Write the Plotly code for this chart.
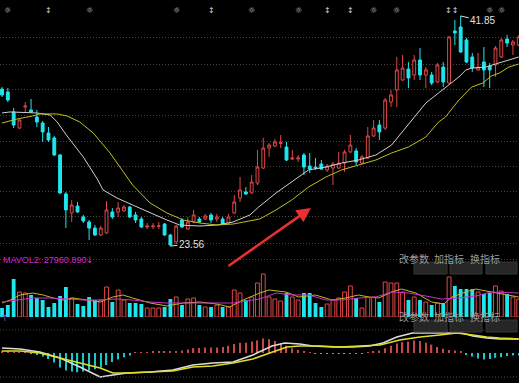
import plotly.graph_objects as go

W, H = 519, 383

# ---------------- data ----------------
opens = [36.04, 35.81, 34.22, 32.94, 34.61, 34.38, 33.82, 33.34, 32.55, 32.15,
         30.80, 27.70, 26.19, 26.74, 25.87, 25.47, 24.99, 24.44, 24.60, 26.27,
         26.27, 26.35, 26.66, 26.03, 25.71, 25.07, 25.10, 25.15, 25.31, 24.44,
         23.88, 25.63, 24.91, 25.47, 25.71, 25.71, 26.03, 25.71, 25.71, 25.39,
         26.19, 27.38, 27.86, 27.78, 28.57, 29.76, 31.35, 31.51, 31.71, 31.43,
         30.48, 30.48, 30.80, 29.92, 29.84, 30.08, 29.61, 29.76, 29.76, 30.16,
         31.04, 31.12, 30.16, 30.56, 32.31, 33.18, 32.94, 35.01, 35.97, 36.76,
         37.63, 37.16, 38.35, 37.16, 37.16, 36.60, 37.79, 36.52, 40.66, 40.97,
         39.94, 38.59, 37.56, 38.19, 37.87, 37.95, 38.59, 40.02, 39.54, 39.54]
highs = [36.20, 36.12, 34.53, 33.62, 35.01, 35.25, 34.38, 33.50, 33.02, 32.31,
         30.88, 27.86, 27.22, 27.06, 26.03, 25.63, 25.23, 25.15, 27.14, 26.58,
         27.06, 26.82, 26.74, 26.27, 25.87, 25.39, 25.39, 25.47, 25.39, 24.52,
         25.23, 25.79, 25.87, 26.43, 25.87, 26.11, 26.19, 26.11, 25.87, 26.11,
         27.62, 29.05, 28.25, 29.21, 31.20, 32.15, 31.75, 32.07, 32.39, 31.83,
         31.20, 30.80, 30.96, 30.96, 30.56, 30.40, 30.08, 30.24, 31.04, 31.20,
         32.39, 31.35, 30.80, 33.02, 33.58, 33.58, 35.33, 35.97, 38.59, 38.75,
         38.19, 38.75, 39.30, 37.79, 37.40, 38.11, 38.19, 40.26, 41.53, 41.85,
         40.10, 38.91, 38.91, 39.38, 38.11, 39.46, 40.10, 40.34, 39.94, 40.34]
lows = [35.41, 35.01, 32.94, 32.88, 34.14, 34.14, 33.02, 31.83, 31.83, 30.72,
        27.70, 24.99, 25.47, 26.19, 25.39, 24.04, 24.36, 24.36, 24.52, 25.71,
        25.87, 26.27, 25.79, 25.39, 24.99, 24.91, 24.91, 24.91, 24.36, 23.56,
        23.72, 24.99, 24.84, 25.39, 25.39, 25.63, 25.39, 25.47, 25.23, 25.31,
        26.11, 27.06, 27.62, 27.70, 28.41, 29.68, 30.64, 31.43, 31.35, 30.32,
        30.40, 30.24, 29.21, 29.37, 29.61, 29.61, 29.45, 28.41, 29.68, 29.45,
        30.96, 30.00, 30.08, 30.48, 32.23, 31.99, 32.79, 34.61, 34.61, 36.70,
        36.12, 36.76, 36.76, 36.12, 36.36, 36.52, 36.20, 36.44, 39.54, 38.91,
        38.11, 37.40, 37.48, 36.20, 36.12, 37.00, 38.51, 39.38, 38.75, 39.46]
closes = [35.57, 35.17, 33.18, 33.58, 34.69, 34.22, 33.42, 32.63, 31.99, 30.80,
          27.78, 26.43, 26.82, 26.27, 25.55, 24.99, 24.44, 24.99, 26.43, 25.87,
          26.58, 26.66, 25.87, 25.63, 25.07, 25.15, 25.15, 25.16, 24.44, 23.64,
          25.15, 25.07, 25.47, 26.03, 25.47, 25.95, 25.63, 25.87, 25.31, 25.87,
          27.06, 28.02, 27.70, 28.65, 29.84, 31.35, 31.59, 31.83, 31.79, 30.40,
          30.56, 30.56, 29.84, 29.68, 29.76, 29.68, 29.92, 30.08, 30.16, 31.04,
          31.59, 30.24, 30.64, 32.31, 32.94, 32.63, 35.17, 35.57, 37.56, 37.71,
          36.92, 38.35, 37.16, 37.56, 36.52, 37.95, 36.60, 40.18, 40.50, 38.99,
          38.19, 37.71, 37.79, 37.56, 37.56, 39.30, 39.94, 39.70, 39.78, 40.18]

volume = [10490, 13980, 44270, 29130, 27960, 25630, 22140, 19800, 11650, 16310,
          24470, 34950, 22140, 15150, 12820, 23300, 19800, 19810, 34950, 17480,
          31460, 19800, 16310, 16310, 15150, 10490, 10480, 10490, 11650, 20970,
          23300, 13980, 20970, 22140, 13980, 11650, 11650, 13980, 11650, 11650,
          31460, 27960, 19800, 23300, 39610, 50100, 23300, 20970, 18640, 27960,
          23300, 19800, 27960, 27960, 16310, 11650, 15150, 19800, 22140, 29130,
          36120, 22140, 10490, 23300, 23300, 17480, 40780, 39610, 39610, 29130,
          19800, 23300, 19800, 17480, 13980, 16310, 16310, 46600, 36120, 32620,
          32620, 32620, 29130, 26800, 27960, 36120, 30290, 26800, 23300, 20970]

# price moving averages, read at points along the lines
ma_short_idx = [0, 1.4, 6, 8.3, 9.5, 11.2, 14, 16.4, 17.4, 19.8, 22.5, 25.5, 28.4, 30.6,
                34.1, 37, 39.8, 42.7, 44.2, 47.2, 49.9, 52.8, 55.8, 58.5, 61.4, 64.4,
                67.1, 70, 73, 75.2, 76.9, 78.7, 79.9, 80.9, 83.3, 85.5, 87.3, 89]
ma_short_val = [34.14, 34.22, 34.14, 33.98, 33.42, 32.31, 30.64, 28.89, 28.02, 27.38, 26.82,
                26.19, 25.63, 25.23, 25.15, 25.23, 25.47, 26.03, 26.66, 27.78, 28.65, 29.61,
                29.84, 30.16, 30.40, 30.80, 31.59, 33.26, 34.93, 35.73, 36.36, 37.00, 37.56,
                37.71, 37.79, 38.11, 38.35, 38.59]
ma_long_idx = [0, 2.6, 5.3, 6.5, 9.5, 11.2, 13.4, 15.7, 18.6, 21.7, 22.5, 25.5, 28.4, 31.2,
               34.1, 37, 39.8, 44.4, 47.2, 49.9, 52.8, 55.8, 58.5, 61.4, 64.4, 67.1, 70, 73,
               75.2, 76.4, 78.7, 80.9, 82.8, 84.3, 85.7, 87.3, 89]
ma_long_val = [33.34, 33.66, 33.90, 34.06, 34.06, 33.90, 33.42, 32.55, 30.96, 28.97, 28.41,
               26.98, 26.19, 25.63, 25.39, 25.23, 25.31, 25.71, 26.43, 27.22, 28.25, 29.05,
               29.61, 30.00, 30.40, 30.96, 31.43, 32.23, 33.42, 33.82, 35.17, 36.20, 36.52,
               37.08, 37.32, 37.79, 38.03]

# volume moving averages
vol_ma1_idx = [0, 1.4, 3.1, 5.3, 7.1, 8.8, 10.5, 12.2, 14.6, 16.9, 19.1, 20.8, 22.5, 25.5,
               28.4, 31.2, 34.1, 37, 39.2, 41.5, 44.4, 46, 48.9, 51.1, 54, 56.8, 59.2, 61.4,
               63.2, 64.9, 67.1, 68.8, 71.3, 74, 76.1, 77.5, 79.9, 81.6, 84.3, 87.3, 89]
vol_ma1_val = [16310, 19805, 25630, 27960, 25630, 22135, 19805, 22135, 19805, 17475, 23300,
               25630, 22135, 16310, 12815, 16310, 17475, 15145, 11650, 19805, 27960, 31455,
               29125, 23300, 25630, 19805, 22135, 25630, 23300, 22135, 29125, 32620, 27960,
               17475, 15145, 23300, 29125, 32620, 29125, 25630, 23300]
vol_ma2_idx = [0, 2.6, 5.3, 8.3, 11.2, 13.9, 16.9, 19.8, 22.5, 25.5, 28.4, 31.2, 34.1, 37,
               39.8, 44.4, 47.2, 49.9, 52.8, 55.8, 58.5, 61.4, 64.4, 67.1, 70, 73, 75.7,
               78.7, 81.6, 84.3, 87.3, 89]
vol_ma2_val = [17475, 19805, 22135, 22135, 20970, 19805, 19805, 20970, 19805, 17475, 16310,
               16310, 16310, 16310, 16310, 20970, 27960, 25630, 25630, 19805, 19805, 22135,
               23300, 29125, 27960, 24465, 20970, 22135, 24465, 29125, 27960, 27960.89]

# MACD
macd_hist = [0.10, 0.10, 0.08, 0.05, 0.02, -0.02, -0.15, -0.30, -0.50, -0.80,
             -1.20, -1.45, -1.55, -1.60, -1.55, -1.45, -1.35, -1.20, -1.00, -0.75,
             -0.55, -0.35, -0.20, 0.03, 0.05, 0.07, 0.10, 0.12, 0.12, 0.10,
             0.15, 0.20, 0.30, 0.40, 0.42, 0.45, 0.45, 0.45, 0.50, 0.60,
             0.75, 0.85, 0.85, 0.95, 1.05, 1.20, 1.15, 1.00, 0.80, 0.60,
             0.40, 0.25, 0.10, 0.02, -0.05, -0.08, -0.08, -0.08, -0.06, -0.05,
             -0.03, -0.06, -0.05, 0.03, 0.10, 0.20, 0.40, 0.60, 0.80, 0.90,
             0.95, 1.05, 1.00, 0.85, 0.70, 0.50, 0.35, 0.25, 0.20, 0.15,
             -0.10, -0.30, -0.45, -0.55, -0.50, -0.40, -0.35, -0.25, -0.20, -0.20]
dif_idx = [0, 3.1, 6.5, 10, 13.4, 16.9, 19.1, 21.5, 25.5, 29.4, 32.9, 36.3, 39.8, 43.2,
           46.5, 48.7, 51.3, 53.5, 57, 60.4, 63.3, 65.6, 68, 70.7, 74.2, 77.1, 79.2, 81.1,
           83.5, 85.7, 89]
dif_val = [0.42, 0.33, 0.08, -0.42, -1.17, -2.00, -1.83, -1.67, -1.58, -1.42, -1.00, -0.83,
           -0.75, -0.17, 0.58, 0.83, 0.75, 0.58, 0.50, 0.50, 0.58, 0.83, 1.33, 1.67, 1.67,
           1.67, 1.67, 1.42, 1.25, 1.17, 1.17]
dea_idx = [0, 3.1, 6.5, 10, 13.4, 16.9, 19.1, 21.5, 25.5, 29.4, 32.9, 36.3, 39.8, 43.2,
           46.6, 49.1, 51.3, 54.7, 58.2, 61.6, 65.1, 68.5, 72, 75.4, 78.3, 81.1, 83.5,
           85.7, 89]
dea_val = [0.17, 0.17, 0.00, -0.42, -0.83, -1.25, -1.67, -1.67, -1.58, -1.50, -1.17, -1.08,
           -0.83, -0.50, 0.08, 0.50, 0.58, 0.58, 0.50, 0.58, 0.67, 1.08, 1.33, 1.50, 1.67,
           1.50, 1.33, 1.25, 1.17]

grid_prices = [40.10, 38.03, 35.97, 33.90, 31.91, 29.92, 27.86, 25.87, 23.80]
info_idx = [1, 8, 15, 30, 36, 43, 51, 56, 60, 64, 68, 77.5, 84, 86]
info_sym = ["☼", "↕", "☼", "☼", "↕", "☼", "☼", "↕", "↕", "☼", "☼", "↕↕", "☼", "☼"]
date_idx = [1, 22.4, 45.3, 66.4, 83.7]
date_labels = ["07", "08", "09", "10", "11"]
buttons = ["改参数", "加指标", "换指标"]
high_label = "41.85"
low_label = "23.56"
mavol_label = "MAVOL2: 27960.890"

# ---------------- styling ----------------
RED = "#e04848"
CYAN = "#1ee6ee"
BG = "#000000"
GRID = "#4c4444"
n = len(opens)
idx = list(range(n))


def py(px):
    return 1 - px / H


def px_x(px):
    return px / W


fig = go.Figure()

# main candles
fig.add_trace(go.Candlestick(
    x=idx, open=opens, high=highs, low=lows, close=closes,
    xaxis="x", yaxis="y", whiskerwidth=0,
    increasing=dict(line=dict(color=RED, width=1), fillcolor=BG),
    decreasing=dict(line=dict(color=CYAN, width=1), fillcolor=CYAN),
    hoverinfo="skip"))
fig.add_trace(go.Scatter(x=ma_short_idx, y=ma_short_val, mode="lines",
                         line=dict(color="#cfcfcf", width=1), xaxis="x", yaxis="y"))
fig.add_trace(go.Scatter(x=ma_long_idx, y=ma_long_val, mode="lines",
                         line=dict(color="#bfbf22", width=1), xaxis="x", yaxis="y"))

# volume bars
up = [i for i in idx if closes[i] >= opens[i]]
dn = [i for i in idx if closes[i] < opens[i]]
fig.add_trace(go.Bar(x=up, y=[volume[i] for i in up], width=0.66, xaxis="x2", yaxis="y2",
                     marker=dict(color=BG, line=dict(color=RED, width=1))))
fig.add_trace(go.Bar(x=dn, y=[volume[i] for i in dn], width=0.66, xaxis="x2", yaxis="y2",
                     marker=dict(color=CYAN, line=dict(width=0))))
fig.add_trace(go.Scatter(x=vol_ma1_idx, y=vol_ma1_val, mode="lines",
                         line=dict(color="#c8b428", width=1), xaxis="x2", yaxis="y2"))
fig.add_trace(go.Scatter(x=vol_ma2_idx, y=vol_ma2_val, mode="lines",
                         line=dict(color="#c830c8", width=1), xaxis="x2", yaxis="y2"))

# MACD
hp = [i for i in idx if macd_hist[i] >= 0]
hn = [i for i in idx if macd_hist[i] < 0]
fig.add_trace(go.Bar(x=hp, y=[macd_hist[i] for i in hp], width=0.22, xaxis="x3", yaxis="y3",
                     marker=dict(color="#c84848", line=dict(width=0))))
fig.add_trace(go.Bar(x=hn, y=[macd_hist[i] for i in hn], width=0.22, xaxis="x3", yaxis="y3",
                     marker=dict(color="#18c8c8", line=dict(width=0))))
fig.add_trace(go.Scatter(x=dif_idx, y=dif_val, mode="lines",
                         line=dict(color="#dcdcdc", width=1.6), xaxis="x3", yaxis="y3"))
fig.add_trace(go.Scatter(x=dea_idx, y=dea_val, mode="lines",
                         line=dict(color="#dede28", width=1.6), xaxis="x3", yaxis="y3"))

xr = [-0.35, 89.05]
ax_common = dict(range=xr, visible=False, fixedrange=True)

shapes = []
for yy in (259.5, 330, 377):
    shapes.append(dict(type="line", xref="paper", yref="paper", x0=0, x1=1,
                       y0=py(yy), y1=py(yy), line=dict(color=GRID, width=1, dash="1px,2px")))
btn_x = [(414, 447), (450, 482), (486, 517)]
btn_rows = [(262, 274), (320, 332)]
annotations = []
for (r0, r1) in btn_rows:
    for (x0, x1), lab in zip(btn_x, buttons):
        shapes.append(dict(type="rect", xref="paper", yref="paper",
                           x0=px_x(x0), x1=px_x(x1), y0=py(r1), y1=py(r0),
                           fillcolor="#262626", line=dict(color="#363636", width=1)))
        annotations.append(dict(xref="paper", yref="paper", x=px_x((x0 + x1) / 2),
                                y=py((r0 + r1) / 2), text=lab, showarrow=False,
                                font=dict(family="Noto Sans CJK SC", size=10, color="#9c9c9c")))

for i_, s in zip(info_idx, info_sym):
    annotations.append(dict(xref="x", yref="paper", x=i_, y=py(4), text=s, showarrow=False,
                            font=dict(family="DejaVu Sans", size=8, color="#d0d0d0")))

for i_, s in zip(date_idx, date_labels):
    annotations.append(dict(xref="x3", yref="paper", x=i_, y=py(379.5), yanchor="top",
                            text=s, showarrow=False,
                            font=dict(family="Liberation Sans", size=11, color="#909090")))

# high / low labels
annotations.append(dict(xref="x", yref="y", x=79, y=41.85, text=high_label, showarrow=True,
                        arrowhead=0, arrowwidth=1, arrowcolor="#e0e0e0", ax=22, ay=5,
                        font=dict(family="Liberation Sans", size=10, color="#e0e0e0")))
annotations.append(dict(xref="x", yref="y", x=29, y=23.56, text=low_label, showarrow=True,
                        arrowhead=0, arrowwidth=1, arrowcolor="#e0e0e0", ax=21, ay=-2,
                        font=dict(family="Liberation Sans", size=10, color="#e0e0e0")))

# volume header
annotations.append(dict(xref="paper", yref="paper", x=px_x(1), y=py(267), xanchor="left",
                        text=mavol_label, showarrow=False,
                        font=dict(family="Liberation Sans", size=9, color="#d02ad0")))
annotations.append(dict(xref="paper", yref="paper", x=px_x(90), y=py(267), xanchor="center",
                        text="↓", showarrow=False,
                        font=dict(family="DejaVu Sans", size=9, color="#d02ad0")))
annotations.append(dict(xref="paper", yref="paper", x=px_x(5), y=py(325), xanchor="center",
                        text="↑", showarrow=False,
                        font=dict(family="DejaVu Sans", size=9, color="#d02ad0")))

# red arrow
annotations.append(dict(xref="paper", yref="paper", x=px_x(311), y=py(208), text="",
                        showarrow=True, arrowhead=2, arrowsize=1.1, arrowwidth=2.6,
                        arrowcolor="#e83030", ax=-84, ay=59))

fig.update_layout(
    width=W, height=H, margin=dict(l=0, r=0, t=0, b=0),
    paper_bgcolor=BG, plot_bgcolor=BG, showlegend=False, barmode="overlay",
    xaxis=dict(domain=[0, 1], anchor="y", rangeslider=dict(visible=False), **ax_common),
    xaxis2=dict(domain=[0, 1], anchor="y2", **ax_common),
    xaxis3=dict(domain=[0, 1], anchor="y3", **ax_common),
    yaxis=dict(domain=[py(259), 1], range=[43.12 - 0.0795 * 259, 43.12], tickvals=grid_prices,
               showticklabels=False, showgrid=True, gridcolor=GRID, griddash="1px,2px",
               gridwidth=1, zeroline=False, showline=False, fixedrange=True),
    yaxis2=dict(domain=[py(317), py(272)], range=[0, 52425], visible=False, fixedrange=True),
    yaxis3=dict(domain=[py(378), py(331)], range=[-25 / 12, 22 / 12], visible=False,
                fixedrange=True),
    shapes=shapes, annotations=annotations,
)

fig.write_html("out.html", config={"displayModeBar": False},
               post_script="document.body.style.margin='0';"
                           "document.body.style.background='#000';"
                           "document.documentElement.style.overflow='hidden';")
